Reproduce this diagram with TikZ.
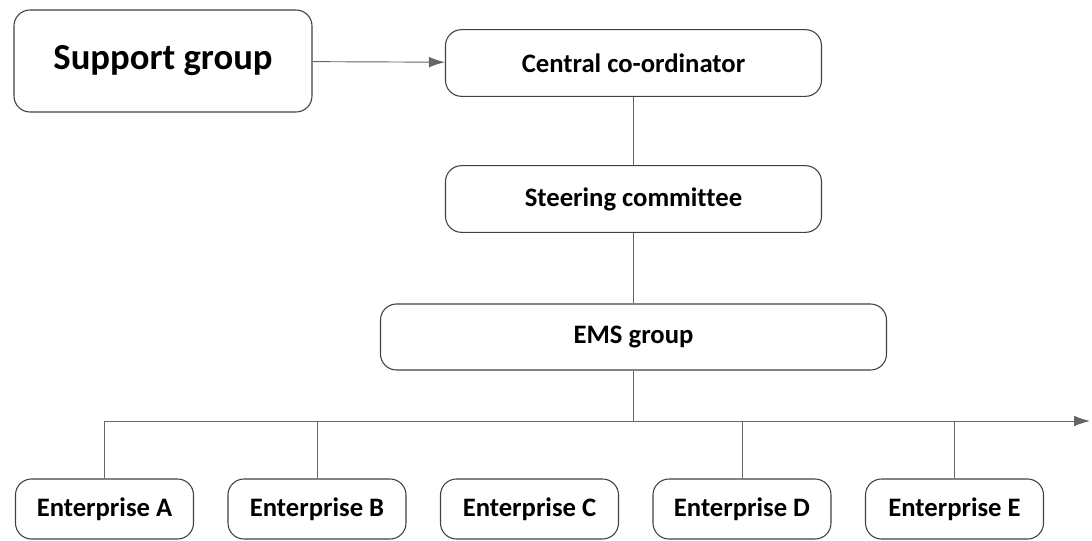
\documentclass[tikz,border=0pt]{standalone}
\usepackage{fontspec}
\setmainfont[Ligatures = NoCommon]{Carlito}
\usetikzlibrary{arrows.meta}
\tikzset{
	orgbox/.style = {draw = black!75, line width = 0.8pt, rounded corners = 12pt, inner sep = 0pt,
		font = \fontsize{20}{24}\selectfont\bfseries},
	link/.style = {draw = black!60, line width = 0.7pt},
	tip/.style = {-{Latex[length = 12pt, width = 8pt]}}
}
\begin{document}
\begin{tikzpicture}[x = 0.75pt, y = -0.75pt]
	\useasboundingbox (0, 0) rectangle (1092, 540);
	
	\node[orgbox, minimum width = 223.5pt, minimum height = 76.5pt,
		font = \fontsize{27.5}{32}\selectfont\bfseries] (supp) at (163, 61) {Support group};
	\node[orgbox, minimum width = 282pt, minimum height = 50pt] (coord) at (633.5, 63) {Central co-ordinator};
	\node[orgbox, minimum width = 282pt, minimum height = 50pt] (steer) at (633.5, 199) {Steering committee};
	\node[orgbox, minimum width = 379.5pt, minimum height = 49.5pt] (ems) at (633.5, 337) {EMS group};
	
	\foreach \e [count = \i from 0] in {A, B, C, D, E} {
		\node[orgbox, minimum width = 133.5pt, minimum height = 45pt] (ent\e) at (104.5 + 212.5*\i, 509) {Enterprise \e};
	}
	
	\draw[link, tip] (supp) -- (coord);
	\draw[link] (coord) -- (steer);
	\draw[link] (steer) -- (ems);
	
	\coordinate (busL) at (entA.north |- 0, 421);
	\coordinate (busR) at (1090, 421);
	\draw[link] (ems.south) -- (ems.south |- busL);
	\draw[link, tip] (busL) -- (busR);
	\foreach \e in {A, B, D, E} {
		\draw[link] (ent\e.north |- busL) -- (ent\e.north);
	}
\end{tikzpicture}
\end{document}
